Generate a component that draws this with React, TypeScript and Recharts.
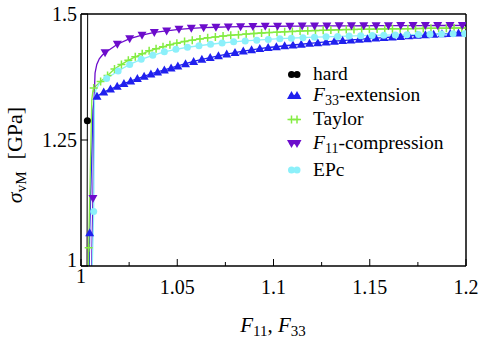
import React from 'react';
import { LineChart, Line, XAxis, YAxis } from 'recharts';

// hard (elastic) response
const hardX = [1.0031, 1.0033, 1.0035];
const hardY = [0.95, 1.288, 1.55];

// F33-extension
const extHeadX = [1.0041, 1.0045, 1.0062, 1.0068, 1.0075];
const extHeadY = [0.95, 1.066, 1.31, 1.328, 1.334];
const extX = [1.0083, 1.0118, 1.0153, 1.0188, 1.0223, 1.0258, 1.0293, 1.0328, 1.0363, 1.0398, 1.0433, 1.0468, 1.0503, 1.0543, 1.0585, 1.0628, 1.0671, 1.0714, 1.0757, 1.08, 1.0843, 1.0886, 1.0929, 1.0972, 1.1015, 1.1058, 1.1101, 1.1144, 1.1187, 1.123, 1.1273, 1.1316, 1.1359, 1.1402, 1.1445, 1.1488, 1.1531, 1.1574, 1.1617, 1.166, 1.1703, 1.1746, 1.1789, 1.1832, 1.1875, 1.1918, 1.1961, 1.2005];
const extY = [1.337, 1.345, 1.351, 1.3565, 1.362, 1.367, 1.372, 1.3765, 1.381, 1.385, 1.389, 1.393, 1.397, 1.4015, 1.406, 1.41, 1.4135, 1.417, 1.4205, 1.4235, 1.4265, 1.429, 1.4315, 1.4335, 1.435, 1.437, 1.4385, 1.44, 1.4418, 1.4432, 1.4446, 1.446, 1.4473, 1.4486, 1.4498, 1.451, 1.4522, 1.4533, 1.4544, 1.4555, 1.4566, 1.4576, 1.4586, 1.4596, 1.4606, 1.4615, 1.4624, 1.4633];

// Taylor
const taylorHeadX = [1.0037, 1.004, 1.0056, 1.0062];
const taylorHeadY = [0.95, 1.036, 1.33, 1.348];
const taylorX = [1.0066, 1.0102, 1.0138, 1.0174, 1.021, 1.0246, 1.0282, 1.0318, 1.0354, 1.039, 1.0426, 1.0462, 1.0498, 1.0538, 1.0578, 1.0618, 1.0658, 1.0698, 1.0738, 1.0778, 1.0818, 1.0858, 1.0898, 1.0938, 1.0978, 1.1018, 1.1058, 1.1098, 1.1138, 1.1178, 1.1218, 1.1258, 1.1298, 1.1338, 1.1378, 1.1418, 1.1458, 1.1498, 1.1538, 1.1578, 1.1618, 1.1658, 1.1698, 1.1738, 1.1778, 1.1818, 1.1858, 1.1898, 1.1938, 1.1978, 1.2015];
const taylorY = [1.353, 1.366, 1.378, 1.391, 1.4, 1.408, 1.415, 1.421, 1.427, 1.431, 1.435, 1.439, 1.442, 1.4455, 1.448, 1.4505, 1.4527, 1.4545, 1.4562, 1.4578, 1.459, 1.4602, 1.4613, 1.4623, 1.4632, 1.464, 1.4648, 1.4655, 1.4661, 1.4667, 1.4672, 1.4677, 1.4683, 1.4687, 1.469, 1.4693, 1.4696, 1.4699, 1.4701, 1.4703, 1.4705, 1.4707, 1.4709, 1.4711, 1.4713, 1.4715, 1.4717, 1.4719, 1.472, 1.4722, 1.4723];

// F11-compression
const compHeadX = [1.0053, 1.0062, 1.0068, 1.0073, 1.0082, 1.0095, 1.011];
const compHeadY = [0.95, 1.134, 1.33, 1.383, 1.4, 1.411, 1.418];
const compX = [1.0125, 1.0189, 1.0253, 1.0317, 1.0381, 1.0445, 1.0509, 1.0573, 1.0637, 1.0701, 1.0765, 1.0829, 1.0893, 1.0957, 1.1021, 1.1085, 1.1149, 1.1213, 1.1277, 1.1341, 1.1405, 1.1469, 1.1533, 1.1597, 1.1661, 1.1725, 1.1789, 1.1853, 1.1917, 1.1981, 1.2005];
const compY = [1.423, 1.44, 1.451, 1.458, 1.4635, 1.4665, 1.4695, 1.4715, 1.4728, 1.4737, 1.4743, 1.4748, 1.4752, 1.4755, 1.4757, 1.4759, 1.4761, 1.4763, 1.4764, 1.4765, 1.4766, 1.4767, 1.4768, 1.4769, 1.477, 1.4771, 1.4771, 1.4772, 1.4772, 1.4773, 1.4773];

// EPc
const epcHeadX = [1.0055, 1.0066, 1.007, 1.0076, 1.0095];
const epcHeadY = [0.95, 1.108, 1.33, 1.348, 1.362];
const epcX = [1.0133, 1.0193, 1.0253, 1.0313, 1.0373, 1.0433, 1.0493, 1.0553, 1.0613, 1.0673, 1.0733, 1.0793, 1.0853, 1.0913, 1.0973, 1.1033, 1.1093, 1.1153, 1.1213, 1.1273, 1.1333, 1.1393, 1.1453, 1.1513, 1.1573, 1.1633, 1.1693, 1.1753, 1.1813, 1.1873, 1.1933, 1.1993, 1.2025];
const epcY = [1.372, 1.387, 1.4, 1.41, 1.418, 1.425, 1.43, 1.434, 1.437, 1.44, 1.4425, 1.4448, 1.4465, 1.448, 1.4495, 1.451, 1.452, 1.453, 1.454, 1.4548, 1.4556, 1.4563, 1.457, 1.4575, 1.458, 1.4585, 1.459, 1.4594, 1.4598, 1.4602, 1.4606, 1.461, 1.4612];

const xTicks = [1, 1.025, 1.05, 1.075, 1.1, 1.125, 1.15, 1.175, 1.2];
const xTickLabels = ['1', '', '1.05', '', '1.1', '', '1.15', '', '1.2'];
const yTicks = [1, 1.25, 1.5];
const yTickLabels = ['1', '1.25', '1.5'];

const FONT = '"Liberation Serif", "Times New Roman", serif';

type Pt = { x: number; y: number; m: boolean };

// head: steep elastic part, only its 2nd point gets a marker; grid: all marked
const build = (hx: number[], hy: number[], gx: number[], gy: number[]): Pt[] => [
  ...hx.map((x, i) => ({ x, y: hy[i], m: i === 1 })),
  ...gx.map((x, i) => ({ x, y: gy[i], m: x < 1.1995 })),
];

const series = [
  { name: 'hard', color: '#000000', shape: 'circle', width: 1, data: build(hardX, hardY, [], []) },
  { name: 'F33-extension', color: '#2020ee', shape: 'triUp', width: 1.3, data: build(extHeadX, extHeadY, extX, extY) },
  { name: 'Taylor', color: '#84ec42', shape: 'plus', width: 1.3, data: build(taylorHeadX, taylorHeadY, taylorX, taylorY) },
  { name: 'F11-compression', color: '#6c0ccc', shape: 'triDown', width: 1.3, data: build(compHeadX, compHeadY, compX, compY) },
  { name: 'EPc', color: '#8cf0fa', shape: 'circle', width: 1.3, data: build(epcHeadX, epcHeadY, epcX, epcY) },
];

const marker = (shape: string, color: string, cx: number, cy: number, key?: string) => {
  if (shape === 'triUp')
    return <path key={key} d={`M${cx},${cy - 4.5}L${cx + 4.5},${cy + 3.5}L${cx - 4.5},${cy + 3.5}Z`} fill={color} />;
  if (shape === 'triDown')
    return <path key={key} d={`M${cx},${cy + 4.5}L${cx + 4.5},${cy - 3.5}L${cx - 4.5},${cy - 3.5}Z`} fill={color} />;
  if (shape === 'plus')
    return <path key={key} d={`M${cx - 4},${cy}H${cx + 4}M${cx},${cy - 4}V${cy + 4}`} stroke={color} strokeWidth={1.5} fill="none" />;
  return <circle key={key} cx={cx} cy={cy} r={3.5} fill={color} />;
};

const BottomTick = (props: any) => {
  const { x, y, payload } = props;
  const i = xTicks.indexOf(payload.value);
  const label = xTickLabels[i];
  return (
    <g>
      <line x1={x} y1={y} x2={x} y2={y - (label ? 7 : 4)} stroke="#000" />
      {label && (
        <text x={x} y={payload.value === 1 ? y + 17 : y + 28} textAnchor="middle" fontFamily={FONT} fontSize={20} fill="#000">
          {label}
        </text>
      )}
    </g>
  );
};

const TopTick = (props: any) => {
  const { x, y, payload } = props;
  const i = xTicks.indexOf(payload.value);
  return <line x1={x} y1={y} x2={x} y2={y + (xTickLabels[i] ? 7 : 4)} stroke="#000" />;
};

const LeftTick = (props: any) => {
  const { x, y, payload } = props;
  const i = yTicks.indexOf(payload.value);
  return (
    <g>
      <line x1={x} y1={y} x2={x + 7} y2={y} stroke="#000" />
      <text x={x - 4} y={payload.value === 1 ? y + 1 : y + 6.5} textAnchor="end" fontFamily={FONT} fontSize={20} fill="#000">
        {yTickLabels[i]}
      </text>
    </g>
  );
};

const RightTick = (props: any) => {
  const { x, y } = props;
  return <line x1={x} y1={y} x2={x - 7} y2={y} stroke="#000" />;
};

const legendBaselines = [80, 101, 125, 149, 175.5];

const LegendText = ({ name, x, y }: { name: string; x: number; y: number }) => {
  const m = name.match(/^F(\d\d)(.*)$/);
  if (!m)
    return (
      <text x={x} y={y} fontFamily={FONT} fontSize={19.5}>
        {name}
      </text>
    );
  return (
    <text x={x} y={y} fontFamily={FONT} fontSize={19.5}>
      <tspan fontStyle="italic">F</tspan>
      <tspan fontSize={14} dy={3.5}>{m[1]}</tspan>
      <tspan dy={-3.5}>{m[2]}</tspan>
    </text>
  );
};

const App = () => {
  return (
    <div style={{ position: 'absolute', left: 0, top: 0, width: 479, height: 337, background: '#fff' }}>
      <LineChart width={479} height={337} margin={{ top: 0, right: 0, bottom: 0, left: 0 }}>
        <XAxis
          dataKey="x"
          type="number"
          domain={[1, 1.2]}
          allowDataOverflow
          ticks={xTicks}
          interval={0}
          height={71}
          tickSize={0}
          tickMargin={0}
          tick={BottomTick}
          axisLine={{ stroke: '#000', strokeWidth: 1.5 }}
        />
        <XAxis
          xAxisId="top"
          orientation="top"
          type="number"
          domain={[1, 1.2]}
          ticks={xTicks}
          interval={0}
          height={14}
          tickSize={0}
          tickMargin={0}
          tick={TopTick}
          axisLine={{ stroke: '#000', strokeWidth: 1.5 }}
        />
        <YAxis
          type="number"
          domain={[1, 1.5]}
          allowDataOverflow
          ticks={yTicks}
          interval={0}
          width={81}
          tickSize={0}
          tickMargin={0}
          tick={LeftTick}
          axisLine={{ stroke: '#000', strokeWidth: 1.5 }}
        />
        <YAxis
          yAxisId="right"
          orientation="right"
          type="number"
          domain={[1, 1.5]}
          ticks={yTicks}
          interval={0}
          width={13}
          tickSize={0}
          tickMargin={0}
          tick={RightTick}
          axisLine={{ stroke: '#000', strokeWidth: 1.5 }}
        />
        {series.map((s) => (
          <Line
            key={s.name}
            data={s.data}
            dataKey="y"
            name={s.name}
            type="linear"
            stroke={s.color}
            strokeWidth={s.width}
            isAnimationActive={false}
            dot={(p: any) =>
              p.payload && p.payload.m ? marker(s.shape, s.color, p.cx, p.cy, `d${p.index}`) : <g key={`d${p.index}`} />
            }
            activeDot={false}
          />
        ))}
      </LineChart>
      <svg width={479} height={337} style={{ position: 'absolute', left: 0, top: 0, pointerEvents: 'none' }}>
        {series.map((s, i) => {
          const by = legendBaselines[i];
          const my = by - 5.5;
          return (
            <g key={s.name}>
              <line x1={289} y1={my} x2={299.5} y2={my} stroke={s.color} strokeWidth={1.3} />
              {marker(s.shape, s.color, 291.5, my)}
              {marker(s.shape, s.color, 297, my)}
              <LegendText name={s.name} x={313} y={by} />
            </g>
          );
        })}
        <text x={273} y={331.5} textAnchor="middle" fontFamily={FONT} fontSize={21}>
          <tspan fontStyle="italic">F</tspan>
          <tspan fontSize={15} dy={4}>11</tspan>
          <tspan dy={-4}>, </tspan>
          <tspan fontStyle="italic">F</tspan>
          <tspan fontSize={15} dy={4}>33</tspan>
        </text>
        <text transform="translate(22,155) rotate(-90)" textAnchor="middle" fontFamily={FONT} fontSize={22}>
          <tspan fontStyle="italic">σ</tspan>
          <tspan fontSize={15} dy={4}>vM</tspan>
          <tspan dy={-4} dx={12}>[GPa]</tspan>
        </text>
      </svg>
    </div>
  );
};

export default App;
